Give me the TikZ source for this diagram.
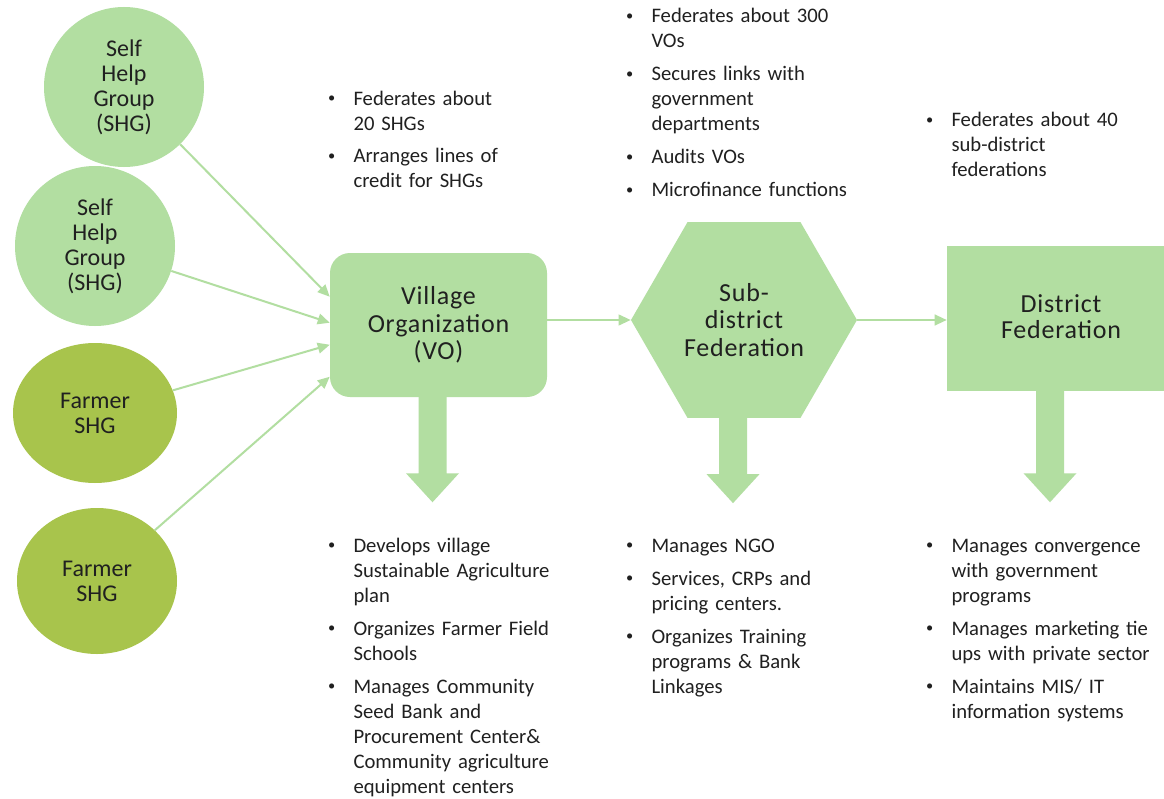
\documentclass[tikz,border=0pt]{standalone}
\usepackage{fontspec}
\setmainfont{Carlito}
\usetikzlibrary{shapes.geometric,arrows.meta,calc}
\definecolor{lg}{HTML}{B2DEA1}
\definecolor{fg}{HTML}{A8C44C}
\definecolor{tx}{HTML}{202020}
\newlength\bw \setlength\bw{19.4pt}
\newcommand\bdot{\makebox[\bw][l]{\hspace{0.4pt}\raisebox{1.7pt}{\fontsize{10.8}{10.8}\selectfont\textbullet}}}
\newcommand\bfirst[1]{\hangindent=\bw\hangafter=1\bdot#1}
\newcommand\bitem[1]{\par\vskip6pt\hangindent=\bw\hangafter=1\noindent\bdot#1}
\tikzset{
  txt/.style={inner sep=0pt, text width=220pt, anchor=base west, text=tx,
    font=\fontsize{15.5}{18.75}\selectfont},
  blob/.style={draw=none, inner sep=0pt, align=center, text=tx,
    font=\fontsize{18}{18.75}\selectfont},
  shg/.style={blob, circle, fill=lg, minimum size=120pt},
  farm/.style={blob, ellipse, fill=fg},
  level/.style={draw=none, fill=lg, inner sep=0pt, align=center, text=tx,
    font=\fontsize{19.5}{20.6}\selectfont\addfontfeature{LetterSpace=3}},
  conn/.style={draw=lg, line width=1.5pt, -{Triangle[length=9pt,width=8pt]}},
}
\begin{document}
\begin{tikzpicture}[x=0.75pt,y=-0.75pt]
\useasboundingbox (0,0) rectangle (1164,799);
\fill[white] (0,0) rectangle (1164,799);
\clip (0,0) rectangle (1164,799);

% source groups
\node[shg] (shg1) at (124,87) {Self\\Help\\Group\\(SHG)};
\node[shg] (shg2) at (95,246) {Self\\Help\\Group\\(SHG)};
\node[farm, minimum width=123pt, minimum height=105pt] (farm1) at (95,413) {Farmer\\SHG};
\node[farm, minimum width=120pt, minimum height=109.5pt] (farm2) at (97,581) {Farmer\\SHG};

% levels
\node[level, rectangle, rounded corners=15pt, minimum width=162.75pt, minimum height=108pt] (vo) at (438.5,325) {Village\\Organization\\(VO)};
\node[level, regular polygon, regular polygon sides=6, minimum size=169.5pt] (hex) at (744,320) {Sub-\\district\\Federation};
\node[level, rectangle, minimum width=171pt, minimum height=108.75pt, text depth=3.5pt, font=\fontsize{19.5}{19.5}\selectfont\addfontfeature{LetterSpace=3}] (dist) at (1061,318.5) {District\\Federation};

% inputs to VO
\coordinate (v1) at ($(vo.north west)+(0,44)$);
\coordinate (v2) at ($(vo.north west)+(0,70)$);
\coordinate (v3) at ($(vo.north west)+(0,92)$);
\coordinate (v4) at ($(vo.north west)+(0,124)$);
\draw[conn] (shg1) -- (v1);
\draw[conn] (shg2) -- (v2);
\draw[conn] (farm1) -- (v3);
\draw[conn] (farm2) -- (v4);

% chain
\draw[conn] (vo.east |- hex.west) -- (hex.west);
\draw[conn] (hex.east) -- (hex.east -| dist.west);

% block arrows down
\fill[lg] ($(vo.south)+(-20,-1)$) -- ++(28,0) -- ++(0,77) -- ++(12.5,0) -- ++(-26.5,29) -- ++(-26.5,-29) -- ++(12.5,0) -- cycle;
\fill[lg] ($(hex.south)+(-25,-1)$) -- ++(28,0) -- ++(0,57) -- ++(12.5,0) -- ++(-26.5,29) -- ++(-26.5,-29) -- ++(12.5,0) -- cycle;
\fill[lg] ($(dist.south)+(-25,-1)$) -- ++(28,0) -- ++(0,83) -- ++(12.5,0) -- ++(-26.5,29) -- ++(-26.5,-29) -- ++(12.5,0) -- cycle;

% text lists
\node[txt] (t1) at (327.4,105) {\bfirst{Federates about\newline 20 SHGs}\bitem{Arranges lines of\newline credit for SHGs}\par};
\node[txt] (t2) at (625.4,23) {\bfirst{Federates about 300\newline VOs}\bitem{Secures links with\newline government\newline departments}\bitem{Audits VOs}\bitem{Microfinance functions}\par};
\node[txt] (t3) at (925.4,127) {\bfirst{Federates about 40\newline sub-district\newline federations}\par};
\node[txt] (t4) at (327.4,552) {\bfirst{Develops  village\newline Sustainable Agriculture\newline plan}\bitem{Organizes Farmer Field\newline Schools}\bitem{Manages Community\newline Seed Bank and\newline Procurement Center\&\newline Community agriculture\newline equipment centers}\par};
\node[txt] (t5) at (625.4,552) {\bfirst{Manages NGO}\bitem{Services, CRPs and\newline pricing centers.}\bitem{Organizes Training\newline programs \& Bank\newline Linkages}\par};
\node[txt] (t6) at (925.4,552) {\bfirst{Manages convergence\newline with government\newline programs}\bitem{Manages marketing tie\newline ups with private sector}\bitem{Maintains MIS/ IT\newline information systems}\par};
\end{tikzpicture}
\end{document}
